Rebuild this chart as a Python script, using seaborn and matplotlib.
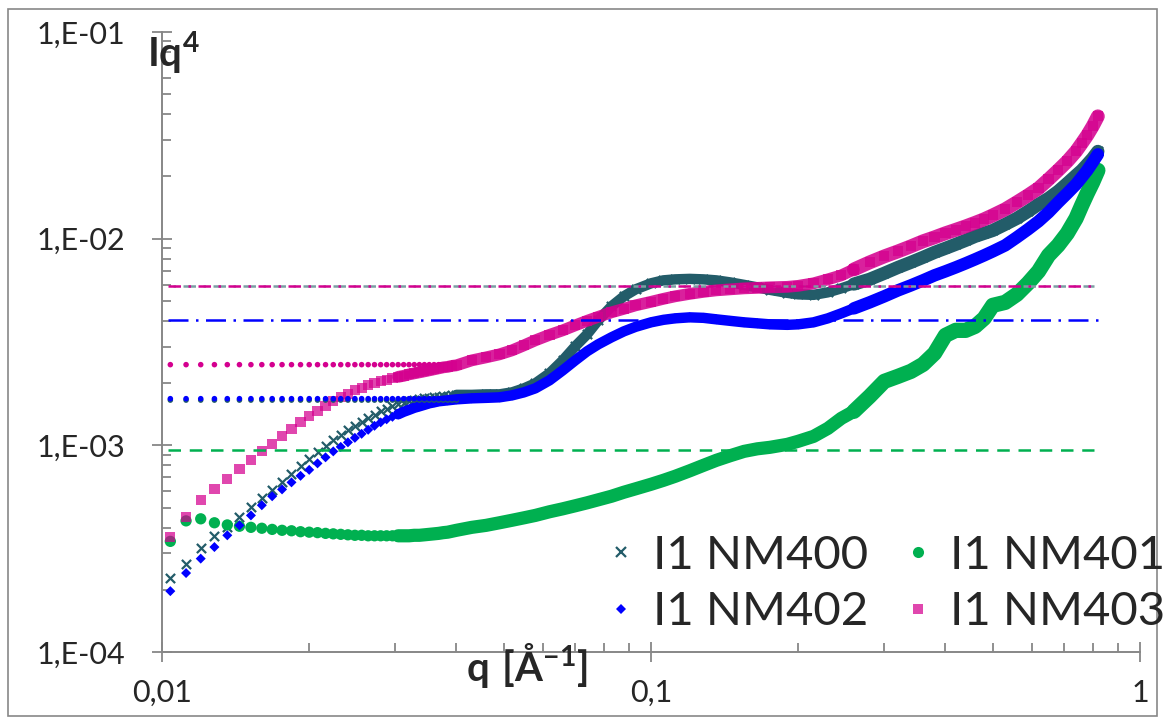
import matplotlib
matplotlib.use("Agg")
import matplotlib.pyplot as plt
from matplotlib.lines import Line2D
from matplotlib.patches import Rectangle
from matplotlib.ticker import LogLocator, NullFormatter
import numpy as np
import pandas as pd
import seaborn as sns

# ---------------------------------------------------------------- data
# scattering vector q [1/Å]: finely sampled start, then the dense tail
q_low = [0.0104, 0.0112, 0.0120, 0.0128, 0.0136, 0.0144, 0.0152, 0.0160,
         0.0168, 0.0176, 0.0184, 0.0192, 0.0200, 0.0208, 0.0216, 0.0224,
         0.0232, 0.0240, 0.0248, 0.0256, 0.0264, 0.0272, 0.0280, 0.0288,
         0.0296, 0.0304, 0.0312, 0.0320, 0.0328, 0.0336, 0.0344, 0.0352,
         0.0360, 0.0368, 0.0376, 0.0384, 0.0392, 0.0400]
q_high = [0.043, 0.046, 0.049, 0.052, 0.055, 0.058, 0.062, 0.066, 0.070,
          0.074, 0.078, 0.083, 0.088, 0.093, 0.100, 0.106, 0.112, 0.120,
          0.128, 0.136, 0.145, 0.155, 0.165, 0.175, 0.190, 0.200, 0.215,
          0.230, 0.245, 0.260, 0.280, 0.300, 0.320, 0.340, 0.360, 0.380,
          0.400, 0.420, 0.440, 0.460, 0.480, 0.500, 0.530, 0.560, 0.590,
          0.620, 0.650, 0.680, 0.710, 0.740, 0.760, 0.780, 0.800, 0.820]

# I*q^4 for each sample
nm400 = [2.28e-4, 2.68e-4, 3.19e-4, 3.63e-4, 4.02e-4, 4.50e-4, 5.03e-4, 5.58e-4,
         6.10e-4, 6.65e-4, 7.24e-4, 7.91e-4, 8.56e-4, 9.25e-4, 9.89e-4, 1.057e-3,
         1.118e-3, 1.182e-3, 1.243e-3, 1.299e-3, 1.351e-3, 1.405e-3, 1.461e-3, 1.502e-3,
         1.544e-3, 1.579e-3, 1.606e-3, 1.633e-3, 1.651e-3, 1.669e-3, 1.688e-3, 1.697e-3,
         1.707e-3, 1.716e-3, 1.726e-3, 1.736e-3, 1.745e-3, 1.755e-3,
         1.755e-3, 1.765e-3, 1.765e-3, 1.805e-3, 1.887e-3, 1.995e-3, 2.23e-3, 2.577e-3,
         3.013e-3, 3.443e-3, 4.026e-3, 4.705e-3, 5.26e-3, 5.685e-3, 6.08e-3, 6.285e-3,
         6.355e-3, 6.39e-3, 6.355e-3, 6.285e-3, 6.147e-3, 5.977e-3, 5.813e-3, 5.654e-3,
         5.468e-3, 5.377e-3, 5.347e-3, 5.499e-3, 5.749e-3, 6.03e-3, 6.36e-3, 6.80e-3,
         7.26e-3, 7.68e-3, 8.12e-3, 8.58e-3, 8.98e-3, 9.39e-3, 9.81e-3, 1.026e-2,
         1.061e-2, 1.096e-2, 1.173e-2, 1.254e-2, 1.355e-2, 1.465e-2, 1.567e-2, 1.694e-2,
         1.852e-2, 2.024e-2, 2.141e-2, 2.288e-2, 2.447e-2, 2.644e-2]
nm401 = [3.43e-4, 4.31e-4, 4.41e-4, 4.22e-4, 4.12e-4, 4.06e-4, 4.01e-4, 3.97e-4,
         3.92e-4, 3.88e-4, 3.86e-4, 3.82e-4, 3.80e-4, 3.78e-4, 3.75e-4, 3.73e-4,
         3.71e-4, 3.69e-4, 3.67e-4, 3.67e-4, 3.65e-4, 3.65e-4, 3.65e-4, 3.65e-4,
         3.65e-4, 3.65e-4, 3.65e-4, 3.65e-4, 3.67e-4, 3.67e-4, 3.69e-4, 3.71e-4,
         3.73e-4, 3.75e-4, 3.78e-4, 3.80e-4, 3.84e-4, 3.88e-4,
         4.01e-4, 4.10e-4, 4.22e-4, 4.34e-4, 4.46e-4, 4.58e-4, 4.77e-4, 4.93e-4,
         5.10e-4, 5.27e-4, 5.45e-4, 5.67e-4, 5.93e-4, 6.16e-4, 6.48e-4, 6.77e-4,
         7.08e-4, 7.53e-4, 8.00e-4, 8.46e-4, 8.90e-4, 9.35e-4, 9.62e-4, 9.78e-4,
         1.011e-3, 1.046e-3, 1.105e-3, 1.208e-3, 1.351e-3, 1.461e-3, 1.726e-3, 2.040e-3,
         2.157e-3, 2.280e-3, 2.465e-3, 2.787e-3, 3.405e-3, 3.601e-3, 3.601e-3, 3.765e-3,
         4.116e-3, 4.757e-3, 4.918e-3, 5.377e-3, 6.08e-3, 6.948e-3, 8.302e-3, 9.282e-3,
         1.061e-2, 1.254e-2, 1.449e-2, 1.657e-2, 1.873e-2, 2.141e-2]
nm402 = [1.97e-4, 2.41e-4, 2.83e-4, 3.22e-4, 3.67e-4, 4.10e-4, 4.58e-4, 5.13e-4,
         5.67e-4, 6.12e-4, 6.62e-4, 7.12e-4, 7.61e-4, 8.18e-4, 8.75e-4, 9.35e-4,
         9.83e-4, 1.034e-3, 1.087e-3, 1.137e-3, 1.189e-3, 1.243e-3, 1.292e-3, 1.336e-3,
         1.374e-3, 1.413e-3, 1.453e-3, 1.485e-3, 1.519e-3, 1.544e-3, 1.570e-3, 1.597e-3,
         1.614e-3, 1.633e-3, 1.642e-3, 1.651e-3, 1.660e-3, 1.669e-3,
         1.688e-3, 1.697e-3, 1.707e-3, 1.745e-3, 1.805e-3, 1.887e-3, 2.063e-3, 2.306e-3,
         2.577e-3, 2.850e-3, 3.081e-3, 3.331e-3, 3.560e-3, 3.744e-3, 3.937e-3, 4.048e-3,
         4.116e-3, 4.162e-3, 4.139e-3, 4.071e-3, 4.004e-3, 3.937e-3, 3.893e-3, 3.850e-3,
         3.828e-3, 3.850e-3, 3.937e-3, 4.116e-3, 4.351e-3, 4.600e-3, 4.918e-3, 5.26e-3,
         5.622e-3, 5.943e-3, 6.285e-3, 6.645e-3, 6.948e-3, 7.264e-3, 7.596e-3, 7.943e-3,
         8.302e-3, 8.68e-3, 9.282e-3, 1.015e-2, 1.109e-2, 1.213e-2, 1.341e-2, 1.498e-2,
         1.657e-2, 1.831e-2, 1.980e-2, 2.141e-2, 2.34e-2, 2.558e-2]
nm403 = [3.60e-4, 4.50e-4, 5.42e-4, 6.17e-4, 6.85e-4, 7.71e-4, 8.53e-4, 9.35e-4,
         1.019e-3, 1.112e-3, 1.202e-3, 1.292e-3, 1.381e-3, 1.469e-3, 1.553e-3, 1.633e-3,
         1.707e-3, 1.775e-3, 1.845e-3, 1.897e-3, 1.951e-3, 1.995e-3, 2.040e-3, 2.075e-3,
         2.110e-3, 2.145e-3, 2.169e-3, 2.205e-3, 2.230e-3, 2.255e-3, 2.280e-3, 2.306e-3,
         2.332e-3, 2.358e-3, 2.384e-3, 2.398e-3, 2.424e-3, 2.438e-3,
         2.577e-3, 2.665e-3, 2.756e-3, 2.882e-3, 3.047e-3, 3.221e-3, 3.424e-3, 3.601e-3,
         3.807e-3, 4.004e-3, 4.185e-3, 4.401e-3, 4.576e-3, 4.757e-3, 4.947e-3, 5.115e-3,
         5.26e-3, 5.408e-3, 5.529e-3, 5.622e-3, 5.685e-3, 5.749e-3, 5.781e-3, 5.813e-3,
         5.846e-3, 5.911e-3, 6.08e-3, 6.355e-3, 6.645e-3, 7.10e-3, 7.68e-3, 8.21e-3,
         8.68e-3, 9.18e-3, 9.71e-3, 1.015e-2, 1.062e-2, 1.104e-2, 1.147e-2, 1.193e-2,
         1.241e-2, 1.297e-2, 1.387e-2, 1.500e-2, 1.620e-2, 1.752e-2, 1.937e-2, 2.142e-2,
         2.367e-2, 2.646e-2, 2.893e-2, 3.163e-2, 3.495e-2, 3.907e-2]

# Porod / plateau reference levels
high_400 = 5.90e-3
high_403 = 5.90e-3
high_402 = 4.02e-3
low_403 = 2.457e-3
low_402 = 1.682e-3
low_400 = 1.655e-3
level_401 = 9.46e-4
line_q = [0.0103, 0.805]
n_dots_403 = 34
n_dots_402 = 38

labels = ["I1 NM400", "I1 NM401", "I1 NM402", "I1 NM403"]
x_ticks = [0.01, 0.1, 1]
x_tick_labels = ["0,01", "0,1", "1"]
y_ticks = [1e-4, 1e-3, 1e-2, 1e-1]
y_tick_labels = ["1,E-04", "1,E-03", "1,E-02", "1,E-01"]

# ---------------------------------------------------------------- style
TEAL = "#235c69"
TEAL_LIGHT = "#7c9da4"
GREEN = "#00b050"
BLUE = "#0000ff"
PINK = "#d4008f"
AXIS = "#878787"

sns.set_style("white")
plt.rcParams["font.family"] = ["Lato", "DejaVu Sans"]
plt.rcParams["mathtext.fontset"] = "custom"
plt.rcParams["mathtext.rm"] = "Lato"
plt.rcParams["mathtext.bf"] = "Lato:bold"

W, H = 1166, 719
fig = plt.figure(figsize=(W / 100, H / 100), dpi=100)
ax = fig.add_axes([162 / W, 1 - 652 / H, (1140 - 162) / W, (652 - 32) / H])
ax.set_xscale("log")
ax.set_yscale("log")

q_all = q_low + q_high
Q_SPLIT = 0.26  # noisier tail is drawn as a wider band

series = [
    # values, colour, marker, marker area, marker edge width,
    # band width (mid), band width (tail), band start q, alpha
    (nm400, TEAL, "x", 44, 1.6, 7.5, 9.5, 0.040, 1.0),
    (nm401, GREEN, "o", 66, 0, 9.5, 11.0, 0.0304, 1.0),
    (nm402, BLUE, "D", 26, 0, 7.5, 9.0, 0.0304, 1.0),
    (nm403, PINK, "s", 54, 0, 8.5, 10.0, 0.0304, 0.72),
]

for z, (vals, col, mk, area, mew, w_mid, w_tail, q0, alpha) in enumerate(series):
    df = pd.DataFrame({"q": q_all, "v": vals})
    mid = df[(df["q"] >= q0) & (df["q"] <= Q_SPLIT)]
    tail = df[df["q"] >= Q_SPLIT]
    for part, w in ((mid, w_mid), (tail, w_tail)):
        sns.lineplot(data=part, x="q", y="v", color=col, lw=w,
                     alpha=min(1.0, alpha + 0.15), estimator=None,
                     solid_capstyle="round", solid_joinstyle="round",
                     ax=ax, zorder=2 + z, legend=False)
    if mk == "x":
        sns.scatterplot(data=df, x="q", y="v", marker=mk, s=area,
                        color=col, linewidth=mew, ax=ax, zorder=2.5 + z,
                        legend=False)
    else:
        sns.scatterplot(data=df, x="q", y="v", marker=mk, s=area,
                        color=col, edgecolor="none", linewidth=0,
                        alpha=alpha, ax=ax, zorder=2.5 + z, legend=False)

# dotted plateaus drawn as point rows on the sample grid
sns.scatterplot(x=q_low[:n_dots_402], y=[low_400] * n_dots_402, color=TEAL,
                s=16, edgecolor="none", ax=ax, zorder=7, legend=False)
sns.scatterplot(x=q_low[:n_dots_402], y=[low_402] * n_dots_402, color=BLUE,
                s=16, edgecolor="none", ax=ax, zorder=7.1, legend=False)
sns.scatterplot(x=q_low[:n_dots_403], y=[low_403] * n_dots_403, color=PINK,
                s=16, edgecolor="none", ax=ax, zorder=7.2, legend=False)

# dashed reference levels
sns.lineplot(x=line_q, y=[high_400] * 2, color=TEAL_LIGHT, lw=1.8,
             ls=(6, (5, 3, 1, 3)), ax=ax, zorder=8, legend=False)
sns.lineplot(x=line_q, y=[high_403] * 2, color=PINK, lw=1.8,
             ls=(0, (5, 3, 1, 3)), ax=ax, zorder=8.1, legend=False)
sns.lineplot(x=[line_q[0], 0.82], y=[high_402] * 2, color=BLUE, lw=1.8,
             ls=(0, (8, 3, 1, 3)), ax=ax, zorder=8.2, legend=False)
sns.lineplot(x=line_q, y=[level_401] * 2, color=GREEN, lw=1.8,
             ls=(0, (5, 3.5)), ax=ax, zorder=8.3, legend=False)

# ---------------------------------------------------------------- axes
ax.set_xlim(0.01, 1)
ax.set_ylim(1e-4, 1e-1)
ax.set_xticks(x_ticks, x_tick_labels)
ax.set_yticks(y_ticks, y_tick_labels)
for axis in (ax.xaxis, ax.yaxis):
    axis.set_minor_locator(LogLocator(base=10, subs=np.arange(2, 10), numticks=20))
    axis.set_minor_formatter(NullFormatter())
ax.set_xlabel("")
ax.set_ylabel("")
ax.tick_params(which="major", direction="inout", length=15, width=1.3,
               color=AXIS, labelsize=22, bottom=True, left=True)
ax.tick_params(which="minor", direction="in", length=6.5, width=1.3,
               color=AXIS, bottom=True, left=True)
ax.tick_params(axis="y", which="major", pad=19)
ax.tick_params(axis="x", which="major", pad=12)
for s in ("top", "right"):
    ax.spines[s].set_visible(False)
for s in ("left", "bottom"):
    ax.spines[s].set_color(AXIS)
    ax.spines[s].set_linewidth(1.4)

fig.text(147 / W, 1 - 67 / H, r"$\mathbf{Iq^4}$", fontsize=29,
         ha="left", va="baseline")
fig.text(527 / W, 1 - 681 / H, r"$\mathbf{q\ [Å^{-1}]}$", fontsize=29,
         ha="center", va="baseline")

handles = [
    Line2D([], [], ls="none", marker="x", color=TEAL, markersize=7, mew=1.6),
    Line2D([], [], ls="none", marker="D", color=BLUE, markersize=5.2, mew=0),
    Line2D([], [], ls="none", marker="o", color=GREEN, markersize=8, mew=0),
    Line2D([], [], ls="none", marker="s", color=PINK, markersize=7.2, mew=0, alpha=0.72),
]
fig.legend(handles, [labels[0], labels[2], labels[1], labels[3]], ncol=2,
           loc="center", bbox_to_anchor=(886 / W, 1 - 584 / H),
           frameon=False, fontsize=34, handlelength=0.6, handletextpad=0.38,
           columnspacing=0.74, labelspacing=0.3, borderpad=0.1)

fig.patches.append(Rectangle((8 / W, 3 / H), 1149 / W, 707 / H,
                             transform=fig.transFigure, fill=False,
                             edgecolor=AXIS, lw=1.2))

fig.savefig("out.png", dpi=100)
